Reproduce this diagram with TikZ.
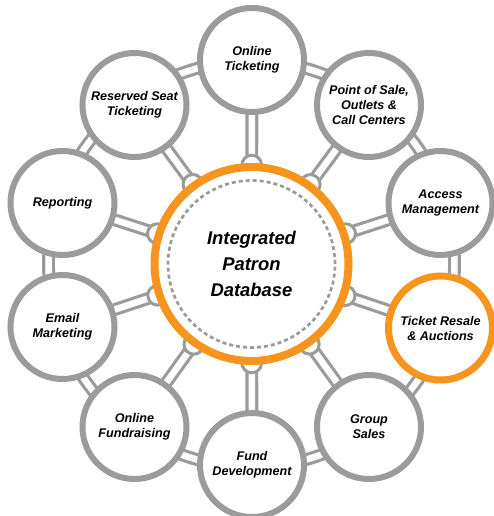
\documentclass[tikz,border=0pt]{standalone}
\usepackage{fontspec}
\setmainfont{Liberation Sans}
\usetikzlibrary{calc,backgrounds}
\definecolor{ringgray}{HTML}{9B9B9B}
\definecolor{hub}{HTML}{F7941D}
\tikzset{
  pipe/.style={draw=ringgray, line width=3.2pt, double=white, double distance=6.5pt},
  knob/.style={circle, draw=ringgray, line width=3pt, fill=white, minimum size=19.6pt, inner sep=0pt},
  module/.style={circle, draw=ringgray, line width=6pt, fill=white, minimum size=104pt, inner sep=0pt,
    align=center, font=\fontsize{12.6}{15}\selectfont\bfseries\itshape},
  hot/.style={draw=hub, line width=7pt},
  hubnode/.style={circle, draw=hub, line width=8pt, fill=white, minimum size=194pt, inner sep=0pt,
    align=center, font=\fontsize{18.4}{25.7}\selectfont\bfseries\itshape},
  dashring/.style={draw=ringgray, line width=2.7pt, dash pattern=on 4pt off 3pt}
}
\begin{document}
\begin{tikzpicture}[x=1pt,y=-1pt]
\useasboundingbox (0,0) rectangle (494,516);
\node[hubnode] (c) at (251.5,264) {Integrated\\Patron\\Database};
\draw[dashring] (c.center) circle (83.5pt);
\node[module] (ot) at (252,60) {Online\\Ticketing};
\node[module] (pos) at (369,105) {Point of Sale,\\Outlets \&\\Call Centers};
\node[module] (am) at (440.5,203) {Access\\Management};
\node[module,hot] (tr) at (440.5,328) {Ticket Resale\\\& Auctions};
\node[module] (gs) at (369,427) {Group\\Sales};
\node[module] (fd) at (252,465) {Fund\\Development};
\node[module] (of) at (134.5,427) {Online\\Fundraising};
\node[module] (em) at (62.5,327) {Email\\Marketing};
\node[module] (rp) at (62.5,203) {Reporting};
\node[module] (rs) at (134.5,105) {Reserved Seat\\Ticketing};
\begin{pgfonlayer}{background}
  \draw[pipe] (c.center) circle (203pt);
  \foreach \m in {ot,pos,am,tr,gs,fd,of,em,rp,rs}{
    \draw[pipe] (c.center) -- (\m.center);
  }
  \foreach \m in {ot,pos,am,tr,gs,fd,of,em,rp,rs}{
    \node[knob] (k\m) at ($(c.center)!99pt!(\m.center)$) {};
  }
\end{pgfonlayer}
\end{tikzpicture}
\end{document}
